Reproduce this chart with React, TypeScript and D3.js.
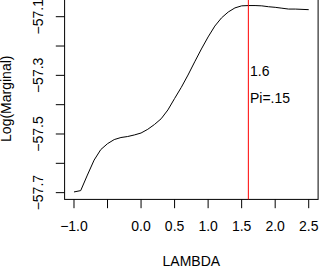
import React from "react";
import * as d3 from "d3";

// lambda grid and log marginal likelihood
const lambdas = [
  -1.0, -0.9, -0.8, -0.7, -0.6, -0.5, -0.4, -0.3, -0.2, -0.1, 0.0, 0.1, 0.2, 0.3, 0.4, 0.5, 0.6, 0.7,
  0.8, 0.9, 1.0, 1.1, 1.2, 1.3, 1.4, 1.5, 1.6, 1.7, 1.8, 1.9, 2.0, 2.1, 2.2, 2.3, 2.4, 2.5,
];
const logMarginal = [
  -57.6976, -57.693, -57.64, -57.589, -57.553, -57.533, -57.519, -57.512, -57.5086, -57.5033, -57.4966,
  -57.484, -57.4676, -57.448, -57.418, -57.379, -57.341, -57.299, -57.254, -57.21, -57.169, -57.132,
  -57.104, -57.084, -57.07, -57.063, -57.062, -57.062, -57.063, -57.066, -57.068, -57.071, -57.074,
  -57.074, -57.075, -57.076,
];
const xTicks = [-1.0, -0.5, 0.0, 0.5, 1.0, 1.5, 2.0, 2.5];
const xTickLabels = ["\u22121.0", "", "0.0", "0.5", "1.0", "1.5", "2.0", "2.5"];
const yTicks = [-57.7, -57.6, -57.5, -57.4, -57.3, -57.2, -57.1];
const yTickLabels = ["\u221257.7", "", "\u221257.5", "", "\u221257.3", "", "\u221257.1"];
const bestLambda = 1.6;
const notes = ["1.6", "Pi=.15"];
const notesAt = [-57.286, -57.379];

const width = 321;
const height = 275;
const plot = { left: 64.6, right: 318.1, top: -1.9, bottom: 199.4 };
const font = "'Liberation Sans', Arial, Helvetica, sans-serif";

// R style axis range: data extent padded 4% each side
const pad = (ext: [number, number]): [number, number] => {
  const r = ext[1] - ext[0];
  return [ext[0] - 0.04 * r, ext[1] + 0.04 * r];
};

export default function App() {
  const x = d3
    .scaleLinear()
    .domain(pad(d3.extent(lambdas) as [number, number]))
    .range([plot.left, plot.right]);
  const y = d3
    .scaleLinear()
    .domain(pad(d3.extent(logMarginal) as [number, number]))
    .range([plot.bottom, plot.top]);

  const line = d3
    .line<number>()
    .x((_, i) => x(lambdas[i]))
    .y((d) => y(d));

  const tick = 8.8;

  return (
    <svg
      width={width}
      height={height}
      style={{ position: "absolute", left: 0, top: 0, background: "white" }}
      fontFamily={font}
      fontSize={14}
    >
      <rect
        x={plot.left}
        y={plot.top}
        width={plot.right - plot.left}
        height={plot.bottom - plot.top}
        fill="none"
        stroke="black"
        strokeWidth={1}
      />
      {xTicks.map((t, i) => (
        <g key={"x" + i}>
          <line x1={x(t)} x2={x(t)} y1={plot.bottom} y2={plot.bottom + tick} stroke="black" />
          <text x={x(t)} y={230.8} textAnchor="middle">
            {xTickLabels[i]}
          </text>
        </g>
      ))}
      {yTicks.map((t, i) => (
        <g key={"y" + i}>
          <line x1={plot.left - tick} x2={plot.left} y1={y(t)} y2={y(t)} stroke="black" />
          <text transform={`translate(43.4,${y(t)}) rotate(-90)`} textAnchor="middle">
            {yTickLabels[i]}
          </text>
        </g>
      ))}
      <path d={line(logMarginal) || ""} fill="none" stroke="black" strokeWidth={1} />
      <line
        x1={x(bestLambda)}
        x2={x(bestLambda)}
        y1={plot.top}
        y2={plot.bottom}
        stroke="#ff0000"
        strokeWidth={1}
      />
      {notes.map((n, i) => (
        <text key={n} x={x(bestLambda) + 1.6} y={y(notesAt[i]) + 4.8}>
          {n}
        </text>
      ))}
      <text x={(plot.left + plot.right) / 2} y={265.7} textAnchor="middle">
        LAMBDA
      </text>
      <text transform={`translate(10.5,${(plot.top + plot.bottom) / 2}) rotate(-90)`} textAnchor="middle">
        Log(Marginal)
      </text>
    </svg>
  );
}
